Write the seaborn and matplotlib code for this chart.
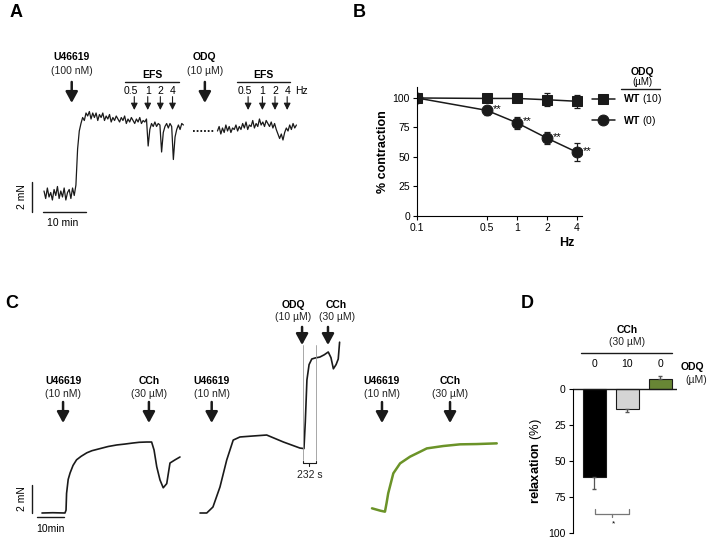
import numpy as np
import seaborn as sns
import matplotlib.pyplot as plt

# ---- Panel A: force trace (mN), one sample every 0.4 min
a_dt = 0.4
a_force_1 = [0.4, -0.1, 0.6, 0.0, 0.3, -0.2, 0.5, 0.1, 0.7, -0.1,
             0.4, 0.0, 0.6, -0.2, 0.3, 0.5, -0.1, 0.6, 0.1,
             0.8, 3.2, 4.4, 4.9, 5.3, 5.1, 5.6,
             5.4, 5.7, 5.2, 5.6, 5.3, 5.6, 5.1, 5.5, 5.3, 5.6,
             5.1, 5.4, 5.2, 5.5, 5.0, 5.3, 5.1, 5.4, 5.2, 5.0,
             5.3, 5.1, 5.4, 4.9, 5.2, 5.0, 5.3, 5.1, 4.9, 5.2,
             5.0, 5.3, 4.9, 5.1, 5.0, 5.2,
             3.4, 4.5, 4.9, 4.7, 5.0, 4.7, 4.9, 4.8,
             3.0, 4.3, 4.7, 4.9, 4.6, 4.9, 4.7,
             2.5, 4.0, 4.5, 4.8, 4.5, 4.9, 4.8]
a_start_2 = 41.3
a_force_2 = [4.4, 4.7, 4.2, 4.6, 4.3, 4.8, 4.4, 4.7, 4.3, 4.6,
             4.5, 4.8, 4.4, 4.7, 4.5, 4.9, 4.6, 5.0, 4.5, 4.8,
             4.7, 5.1, 4.6, 4.9, 4.7, 5.2, 4.8, 5.0, 4.7, 5.1,
             4.9, 4.7, 5.0, 4.6, 4.9, 4.5, 4.2, 3.9, 4.2, 3.8,
             4.3, 4.6, 4.4, 4.8, 4.5, 4.9, 4.6, 4.8]
efs_hz = ['0.5', '1', '2', '4']
efs_t_1 = [21.5, 24.7, 27.7, 30.6]
efs_t_2 = [48.6, 52.0, 55.0, 57.9]

# ---- Panel B: % contraction vs EFS frequency
hz = [0.1, 0.5, 1, 2, 4]
wt10 = [100, 99.6, 99.6, 98.5, 97.2]
wt10_err = [0, 1.2, 2.8, 5.6, 5.6]
wt0 = [100, 89.5, 79, 66, 54]
wt0_err = [0, 3.8, 5.0, 4.8, 7.6]

# ---- Panel C: three traces (min, mN)
c1_t = [0, 4, 8.5, 8.9, 9.1, 9.7, 10.4, 11.5, 12.8, 14.5, 16.6, 18.5, 21.5, 24.5,
        27.7, 30.5, 33.7, 36.0, 38.8, 40.6, 41.5, 42.5, 43.7, 44.9, 46.2, 47.4, 49.3, 51.1]
c1_f = [0, 0.02, 0, 0.2, 1.4, 2.4, 2.86, 3.4, 3.8, 4.05, 4.3, 4.45, 4.6, 4.75,
        4.86, 4.92, 5.0, 5.05, 5.07, 5.07, 4.5, 3.3, 2.36, 1.8, 2.1, 3.57, 3.8, 4.0]
c2_t = [0, 2.5, 4.8, 7.4, 9.9, 12.3, 14.8, 19.6, 24.7, 30.9, 37.0, 38.5, 39.0,
        39.6, 40.4, 41.4, 42.6, 44.4, 46.0, 47.5, 48.5, 49.4, 50.4, 51.2, 51.7]
c2_f = [0, 0, 0.43, 1.86, 3.79, 5.21, 5.43, 5.5, 5.57, 5.07, 4.64, 4.6, 6.5,
        9.5, 10.6, 11.0, 11.07, 11.14, 11.3, 11.5, 11.1, 10.3, 10.6, 11.0, 12.2]
c3_t = [0, 3.1, 4.8, 5.4, 6.0, 7.9, 10.4, 14.1, 17.8, 20.3, 26.4, 32.6, 38.8, 46.2]
c3_f = [0.12, -0.05, -0.12, 0.5, 1.19, 2.62, 3.33, 3.81, 4.16, 4.4, 4.57, 4.69, 4.71, 4.76]
odq_window = [38.1, 42.96]   # 232 s

# ---- Panel D: relaxation to CCh
d_keys = ['wt', 'wt_odq', 'ko']
d_odq = ['0', '10', '0']
relax = [61.1, 13.9, -6.9]
relax_err = [8.3, 1.6, 2.3]
green = '#6b9328'
d_colors = ['black', '#d4d4d4', green]

sns.set_theme(style='ticks')
plt.rcParams['font.family'] = ['Liberation Sans', 'DejaVu Sans']
plt.rcParams['font.size'] = 7.5
plt.rcParams['mathtext.fontset'] = 'custom'
plt.rcParams['mathtext.rm'] = 'Liberation Sans'
plt.rcParams['mathtext.bf'] = 'Liberation Sans:bold'
plt.rcParams['axes.edgecolor'] = 'black'
plt.rcParams['axes.linewidth'] = 0.8
plt.rcParams['text.color'] = 'black'
plt.rcParams['axes.labelcolor'] = 'black'
plt.rcParams['xtick.color'] = 'black'
plt.rcParams['ytick.color'] = 'black'

W, H = 709, 542
fig = plt.figure(figsize=(W / 100, H / 100), dpi=100)


def ax_px(left, top, right, bottom):
    return fig.add_axes([left / W, 1 - bottom / H, (right - left) / W, (bottom - top) / H])


def trace_ax(x0, y0, px_min, px_mn, tlim, flim):
    ax = ax_px(x0 + px_min * tlim[0], y0 - px_mn * flim[1],
               x0 + px_min * tlim[1], y0 - px_mn * flim[0])
    ax.set_xlim(tlim)
    ax.set_ylim(flim)
    ax.axis('off')
    return ax


def arrow(ax, t, f0, f1, big=True):
    if big:
        style, lw, ms = '-|>,head_length=0.55,head_width=0.3', 1.8, 12
    else:
        style, lw, ms = '-|>,head_length=0.5,head_width=0.25', 0.8, 8
    ax.annotate('', xy=(t, f1), xytext=(t, f0),
                arrowprops=dict(arrowstyle=style, color='k', lw=lw,
                                mutation_scale=ms, shrinkA=0, shrinkB=0))


def drug(ax, t, name, conc, f_name, f_conc):
    ax.text(t, f_name, name, ha='center', va='center', fontweight='bold')
    ax.text(t, f_conc, conc, ha='center', va='center', color='#222222')


# ================= A =================
axa = trace_ax(44, 197, 4.2, 15, (-6, 64), (-3, 11))
t1 = np.arange(len(a_force_1)) * a_dt
t2 = a_start_2 + np.arange(len(a_force_2)) * a_dt
sns.lineplot(x=t1, y=a_force_1, ax=axa, color='k', lw=0.9, estimator=None, sort=False)
sns.lineplot(x=t2, y=a_force_2, ax=axa, color='k', lw=0.9, estimator=None, sort=False)
axa.plot([35.4, 40.7], [4.42, 4.42], color='k', lw=1.4, ls=(0, (0.9, 1.0)))
drug(axa, 6.6, 'U46619', '(100 nM)', 9.31, 8.4)
arrow(axa, 6.6, 7.67, 6.27)
drug(axa, 38.3, 'ODQ', '(10 µM)', 9.31, 8.4)
arrow(axa, 38.3, 7.67, 6.27)
for ts, (lo, hi) in [(efs_t_1, (19.3, 32.1)), (efs_t_2, (45.9, 58.6))]:
    axa.text((lo + hi) / 2, 8.13, 'EFS', ha='center', va='center', fontweight='bold')
    axa.plot([lo, hi], [7.69, 7.69], color='k', lw=1)
    for i, (t, lab) in enumerate(zip(ts, efs_hz)):
        axa.text(t - (0.8 if i == 0 else 0), 7.09, lab, ha='center', va='center')
        arrow(axa, t, 6.69, 5.8, big=False)
axa.text(61.4, 7.09, 'Hz', ha='center', va='center')
axa.plot([-2.8, -2.8], [-0.98, 1.02], color='k', lw=1)
axa.plot([-0.17, 10.0], [-0.98, -0.98], color='k', lw=1)
axa.text(-5.3, 0.02, '2 mN', rotation=90, ha='center', va='center')
axa.text(4.45, -1.71, '10 min', ha='center', va='center')

# ================= B =================
axb = ax_px(417, 87, 582, 216)
axb.set_xscale('log')
axb.errorbar(hz, wt0, yerr=wt0_err, fmt='none', ecolor='k', elinewidth=0.9, capsize=2.2, capthick=0.9)
axb.errorbar(hz, wt10, yerr=wt10_err, fmt='none', ecolor='k', elinewidth=0.9, capsize=2.2, capthick=0.9)
sns.lineplot(x=hz, y=wt0, ax=axb, color='k', lw=1.1, marker='o', markersize=7.8,
             mec='k', label='$\\mathbf{WT}$ (0)')
sns.lineplot(x=hz, y=wt10, ax=axb, color='k', lw=1.1, marker='s', markersize=6.8,
             mec='k', label='$\\mathbf{WT}$ (10)')
for x, y in zip(hz[1:], wt0[1:]):
    axb.annotate('**', (x, y), xytext=(4, 1), textcoords='offset points',
                 ha='left', va='center', fontsize=8)
axb.set_xlim(0.1, 4.49)
axb.set_ylim(0, 109.3)
axb.set_xticks(hz, ['0.1', '0.5', '1', '2', '4'])
axb.xaxis.set_minor_locator(plt.NullLocator())
axb.set_yticks([0, 25, 50, 75, 100])
axb.tick_params(length=3, width=0.8, pad=2, labelsize=7.5)
sns.despine(ax=axb)
axb.set_ylabel('% contraction', fontweight='bold', fontsize=9)
axb.yaxis.set_label_coords(-0.17, 0.496)
axb.text(0.909, -0.209, 'Hz', transform=axb.transAxes, ha='center', va='center',
         fontweight='bold', fontsize=9)
h, l = axb.get_legend_handles_labels()
axb.legend(h[::-1], l[::-1], loc='center left', bbox_to_anchor=(1.06, 0.822),
           frameon=False, borderpad=0, borderaxespad=0, handlelength=2.2,
           handletextpad=0.75, labelspacing=0.73, fontsize=7.5)
axb.text(1.364, 1.116, 'ODQ', transform=axb.transAxes, ha='center', va='center', fontweight='bold')
axb.text(1.364, 1.039, '(µM)', transform=axb.transAxes, ha='center', va='center', fontsize=7)
axb.plot([1.236, 1.473], [0.984, 0.984], transform=axb.transAxes, color='k', lw=1, clip_on=False)

# ================= C =================
axc1 = trace_ax(42, 513, 2.7, 14, (-9, 55), (-2.5, 10.5))
sns.lineplot(x=c1_t, y=c1_f, ax=axc1, color='k', lw=1.2, estimator=None, sort=False)
drug(axc1, 7.8, 'U46619', '(10 nM)', 9.43, 8.5)
arrow(axc1, 7.8, 7.93, 6.43)
drug(axc1, 39.6, 'CCh', '(30 µM)', 9.43, 8.5)
arrow(axc1, 39.6, 7.93, 6.43)
axc1.plot([-3.6, -3.6], [0, 2], color='k', lw=1)
axc1.plot([-1.74, 8.15], [-0.31, -0.31], color='k', lw=1)
axc1.text(-7.5, 1.0, '2 mN', rotation=90, ha='center', va='center')
axc1.text(3.0, -1.14, '10min', ha='center', va='center')

axc2 = trace_ax(200, 513, 2.7, 14, (-2, 55), (-2.5, 16))
sns.lineplot(x=c2_t, y=c2_f, ax=axc2, color='k', lw=1.2, estimator=None, sort=False)
drug(axc2, 4.33, 'U46619', '(10 nM)', 9.43, 8.5)
arrow(axc2, 4.33, 7.93, 6.43)
drug(axc2, 34.6, 'ODQ', '(10 µM)', 14.86, 14.0)
arrow(axc2, 37.8, 13.29, 12.0)
drug(axc2, 50.6, 'CCh', '(30 µM)', 14.86, 14.0)
arrow(axc2, 47.4, 13.29, 12.0)
for t in odq_window:
    axc2.plot([t, t], [3.79, 12.0], color='#999999', lw=0.6)
axc2.plot([odq_window[0], odq_window[0], odq_window[1], odq_window[1]],
          [3.75, 3.57, 3.57, 3.75], color='k', lw=0.8)
axc2.plot([sum(odq_window) / 2] * 2, [3.57, 3.35], color='k', lw=0.8)
axc2.text(sum(odq_window) / 2, 2.71, '232 s', ha='center', va='center', color='#222222')

axc3 = trace_ax(372, 510, 2.7, 14, (-2, 50), (-2.5, 10.5))
sns.lineplot(x=c3_t, y=c3_f, ax=axc3, color=green, lw=1.8, estimator=None, sort=False)
drug(axc3, 3.7, 'U46619', '(10 nM)', 9.22, 8.29)
arrow(axc3, 3.7, 7.71, 6.21)
drug(axc3, 28.9, 'CCh', '(30 µM)', 9.22, 8.29)
arrow(axc3, 28.9, 7.71, 6.21)

# ================= D =================
axd = ax_px(572.7, 374.9, 676.7, 533.3)
sns.barplot(x=d_keys, y=relax, hue=d_keys, palette=d_colors, legend=False, width=0.7,
            edgecolor='k', linewidth=0.8, errorbar=None, ax=axd)
err_lo = [e if v < 0 else 0 for v, e in zip(relax, relax_err)]
err_hi = [e if v > 0 else 0 for v, e in zip(relax, relax_err)]
axd.errorbar(range(3), relax, yerr=[err_lo, err_hi], fmt='none', ecolor='#555555',
             elinewidth=0.9, capsize=1.5)
axd.set_xlim(-0.655, 2.497)
axd.set_ylim(100, -10)
axd.axhline(0, color='k', lw=1)
axd.set_yticks([0, 25, 50, 75, 100])
axd.set_xticks(range(3), d_odq)
axd.xaxis.tick_top()
axd.tick_params(axis='x', length=0, pad=4, labelsize=7.5)
axd.tick_params(axis='y', length=3, width=0.8, pad=2, labelsize=7.5)
sns.despine(ax=axd, bottom=True)
axd.spines['left'].set_bounds(0, 100)
axd.set_xlabel('')
axd.set_ylabel('$\\mathbf{relaxation}$ (%)', fontsize=9.3)
axd.yaxis.set_label_coords(-0.276, 0.456)
axd.text(0.99, -41.2, 'CCh', ha='center', va='center', fontweight='bold')
axd.text(0.99, -32.9, '(30 µM)', ha='center', va='center', color='#222222')
axd.plot([-0.4, 2.35], [-25.3, -25.3], color='k', lw=1, clip_on=False)
axd.text(2.96, -15.6, 'ODQ', ha='center', va='center', fontweight='bold')
axd.text(3.08, -6.5, '(µM)', ha='center', va='center', color='#222222')
axd.plot([0.02, 0.02, 1.06, 1.06], [83.3, 86.6, 86.6, 83.3], color='#777777', lw=0.9)
axd.plot([0.54, 0.54], [86.6, 88.5], color='#777777', lw=0.9)
axd.text(0.57, 93.5, '*', ha='center', va='center', fontsize=6)

for lab, x, y in [('A', 16.5, 12.5), ('B', 359.7, 12.5), ('C', 11.5, 303.5), ('D', 527.5, 304)]:
    fig.text(x / W, 1 - y / H, lab, ha='center', va='center', fontweight='bold', fontsize=13)

fig.savefig('out.png', dpi=100)
